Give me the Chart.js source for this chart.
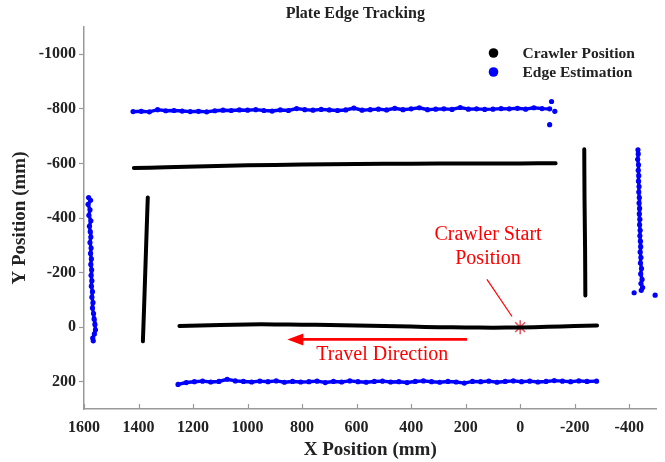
<!DOCTYPE html>
<html>
<head>
<meta charset="utf-8">
<script src="https://cdn.jsdelivr.net/npm/chart.js@4.4.1/dist/chart.umd.min.js"></script>
<style>
  html, body { margin: 0; padding: 0; background: #fff; }
  #wrap { width: 665px; height: 462px; }
</style>
</head>
<body>
<div id="wrap"><canvas id="edgeChart" width="665" height="462"></canvas></div>
<script>
// ---------------------------------------------
// Plate edge tracking — crawler path + edge estimate
// ---------------------------------------------

const xTicks = [1600, 1400, 1200, 1000, 800, 600, 400, 200, 0, -200, -400];
const yTicks = [-1000, -800, -600, -400, -200, 0, 200];
const legendLabels = ['Crawler Position', 'Edge Estimation'];

// crawler path (black), four legs
const crawlBottomX = [-282, -200, -100, 0, 100, 200, 300, 400, 500, 600, 700, 800, 900, 1000, 1100, 1250];
const crawlBottomY = [-6, -4, -1, 1, 2, 1, 0, -2, -4, -6, -8, -9, -10, -10, -8, -4];
const crawlLeftX = [1384, 1380, 1376, 1372, 1368, 1366];
const crawlLeftY = [52, -60, -180, -300, -420, -475];
const crawlTopX = [1417, 1300, 1150, 1000, 800, 600, 400, 200, 0, -130];
const crawlTopY = [-583, -586, -590, -593, -596, -598, -599, -600, -600, -601];
const crawlRightX = [-235, -236, -238, -239];
const crawlRightY = [-652, -470, -290, -116];

// edge estimation (blue)
const edgeTopX = [1420, 1390, 1360, 1330, 1300, 1270, 1240, 1210, 1180, 1150, 1120, 1090, 1060, 1030, 1000, 970, 940, 910, 880, 850,
  820, 790, 760, 730, 700, 670, 640, 610, 580, 550, 520, 490, 460, 430, 400, 370, 340, 310, 280, 250,
  220, 190, 160, 130, 100, 70, 40, 10, -20, -50, -80, -108];
const edgeTopY = [-790, -791, -789, -797, -793, -794, -792, -790, -791, -789, -793, -795, -794, -796, -795, -797, -794, -792, -796, -794,
  -801, -797, -795, -798, -796, -794, -796, -803, -795, -797, -799, -796, -802, -797, -800, -804, -797, -799, -800, -798,
  -805, -799, -800, -798, -799, -801, -800, -802, -799, -804, -801, -800];
const edgeTopOutX = [-115, -127, -108];
const edgeTopOutY = [-827, -791, -742];

const edgeBotX = [1255, 1225, 1195, 1165, 1135, 1105, 1075, 1045, 1015, 985, 955, 925, 895, 865, 835, 805, 775, 745, 715, 685,
  655, 625, 595, 565, 535, 505, 475, 445, 415, 385, 355, 325, 295, 265, 235, 205, 175, 145, 115, 85,
  55, 25, -5, -35, -65, -95, -125, -155, -185, -215, -245, -280];
const edgeBotY = [210, 203, 200, 198, 201, 199, 191, 197, 199, 201, 198, 200, 197, 202, 199, 201, 200, 198, 203, 199,
  201, 197, 200, 202, 199, 198, 201, 200, 203, 199, 197, 200, 202, 199, 201, 205, 199, 200, 198, 202,
  199, 197, 200, 198, 201, 199, 196, 198, 200, 197, 199, 198];

const edgeLeftX = [1583, 1576, 1585, 1578, 1582, 1575, 1580, 1577, 1575, 1578, 1574, 1576, 1573, 1575, 1572, 1574, 1571, 1573, 1569, 1571,
  1567, 1569, 1565, 1563, 1560, 1558, 1562, 1568, 1566];
const edgeLeftY = [-475, -465, -450, -430, -410, -390, -370, -350, -330, -310, -290, -270, -250, -230, -210, -190, -170, -150, -130, -110,
  -90, -70, -50, -30, -10, 10, 25, 40, 50];

const edgeRightX = [-432, -433, -431, -434, -433, -435, -434, -436, -435, -437, -436, -438, -437, -439, -438, -440, -439, -441, -442, -440,
  -443, -441, -445, -442, -447, -443, -449, -444];
const edgeRightY = [-650, -635, -615, -595, -575, -555, -535, -515, -495, -475, -455, -435, -415, -395, -375, -355, -335, -315, -295, -275,
  -255, -235, -215, -195, -175, -160, -145, -135];
const edgeRightOutX = [-418, -495];
const edgeRightOutY = [-126, -117];

// annotations (data units)
const startPoint = { x: 0, y: 0 };
const startLabel = ['Crawler Start', 'Position'];
const startLabelAt = { x: 118, y: -339 };
const startPointer = [{ x: 122, y: -175 }, { x: 30, y: -39 }];
const travelArrow = [{ x: 195, y: 45 }, { x: 854, y: 45 }];
const travelLabel = 'Travel Direction';
const travelLabelAt = { x: 506, y: 100 };

const BLUE = '#0000ff';
const RED = '#ff0000';
const SERIF = "'Liberation Serif', 'Times New Roman', serif";

const pts = (xs, ys) => xs.map((x, i) => ({ x, y: ys[i] }));

function crawlSet(label, xs, ys) {
  return {
    label, data: pts(xs, ys), showLine: true, tension: 0.3,
    borderColor: '#000', borderWidth: 4, pointRadius: 0, borderCapStyle: 'round', clip: 8
  };
}
function edgeSet(label, xs, ys, line) {
  return {
    label, data: pts(xs, ys), showLine: line, tension: 0,
    borderColor: BLUE, borderWidth: 3.4, backgroundColor: BLUE,
    pointRadius: 2.6, pointBorderWidth: 0, pointBackgroundColor: BLUE, clip: 8
  };
}

const datasets = [
  crawlSet(legendLabels[0], crawlBottomX, crawlBottomY),
  crawlSet('_c2', crawlLeftX, crawlLeftY),
  crawlSet('_c3', crawlTopX, crawlTopY),
  crawlSet('_c4', crawlRightX, crawlRightY),
  edgeSet(legendLabels[1], edgeTopX, edgeTopY, true),
  edgeSet('_e2', edgeTopOutX, edgeTopOutY, false),
  edgeSet('_e3', edgeBotX, edgeBotY, true),
  edgeSet('_e4', edgeLeftX, edgeLeftY, true),
  edgeSet('_e5', edgeRightX, edgeRightY, true),
  edgeSet('_e6', edgeRightOutX, edgeRightOutY, false),
  {
    label: '_start', data: [startPoint], pointStyle: 'star', pointRadius: 7,
    pointBorderColor: '#e8505b', pointBorderWidth: 1.5, showLine: false, clip: 10
  }
];

// ---------------------------------------------
// extras: title, legend, inner x ticks, red notes
// ---------------------------------------------
const extras = {
  id: 'extras',
  afterDatasetsDraw(chart) {
    const { ctx, chartArea: area, scales: { x, y } } = chart;
    ctx.save();

    // x ticks point into the plot
    ctx.strokeStyle = '#999';
    ctx.lineWidth = 1.2;
    xTicks.forEach(v => {
      const px = Math.round(x.getPixelForValue(v)) + 0.5;
      ctx.beginPath();
      ctx.moveTo(px, area.bottom);
      ctx.lineTo(px, area.bottom - 5);
      ctx.stroke();
    });

    // title
    ctx.fillStyle = '#222';
    ctx.font = `bold 16px ${SERIF}`;
    ctx.textAlign = 'center';
    ctx.textBaseline = 'middle';
    ctx.fillText('Plate Edge Tracking', (area.left + area.right) / 2 - 15, 14);

    // legend
    const colors = ['#000', BLUE];
    legendLabels.forEach((txt, i) => {
      const ly = 53 + i * 19;
      ctx.fillStyle = colors[i];
      ctx.beginPath();
      ctx.arc(area.right - 163, ly, 4.8, 0, Math.PI * 2);
      ctx.fill();
      ctx.fillStyle = '#222';
      ctx.font = `bold 15.5px ${SERIF}`;
      ctx.textAlign = 'left';
      ctx.fillText(txt, area.right - 134, ly + 1);
    });

    // pointer to start
    ctx.strokeStyle = RED;
    ctx.lineWidth = 1.2;
    ctx.beginPath();
    ctx.moveTo(x.getPixelForValue(startPointer[0].x), y.getPixelForValue(startPointer[0].y));
    ctx.lineTo(x.getPixelForValue(startPointer[1].x), y.getPixelForValue(startPointer[1].y));
    ctx.stroke();

    // travel arrow
    const ax0 = x.getPixelForValue(travelArrow[0].x);
    const ax1 = x.getPixelForValue(travelArrow[1].x);
    const ay = y.getPixelForValue(travelArrow[0].y);
    ctx.lineWidth = 2.8;
    ctx.beginPath();
    ctx.moveTo(ax0, ay);
    ctx.lineTo(ax1 + 12, ay);
    ctx.stroke();
    ctx.fillStyle = RED;
    ctx.beginPath();
    ctx.moveTo(ax1, ay);
    ctx.lineTo(ax1 + 16, ay - 6);
    ctx.lineTo(ax1 + 16, ay + 6);
    ctx.closePath();
    ctx.fill();

    // red labels
    ctx.font = `20px ${SERIF}`;
    ctx.textAlign = 'center';
    ctx.textBaseline = 'middle';
    const sx = x.getPixelForValue(startLabelAt.x);
    const sy = y.getPixelForValue(startLabelAt.y);
    startLabel.forEach((line, i) => ctx.fillText(line, sx, sy + i * 24));
    ctx.fillText(travelLabel, x.getPixelForValue(travelLabelAt.x), y.getPixelForValue(travelLabelAt.y));

    ctx.restore();
  }
};

new Chart(document.getElementById('edgeChart'), {
  type: 'scatter',
  data: { datasets },
  plugins: [extras],
  options: {
    responsive: false,
    animation: false,
    layout: { padding: { top: 27, right: 7, left: 0, bottom: 0 } },
    plugins: {
      legend: { display: false },
      title: { display: false },
      tooltip: { enabled: false }
    },
    scales: {
      x: {
        type: 'linear', min: -500, max: 1600, reverse: true,
        afterBuildTicks: s => { s.ticks = xTicks.map(v => ({ value: v })); },
        afterFit: s => { s.height = 53; },
        grid: { display: true, drawOnChartArea: false, drawTicks: false },
        border: { display: true, color: '#999', width: 1.5 },
        ticks: {
          color: '#222', padding: 9, maxRotation: 0, callback: v => String(v),
          font: { family: SERIF, size: 16, weight: 'bold' }
        },
        title: {
          display: true, text: 'X Position (mm)', color: '#222',
          font: { family: SERIF, size: 19, weight: 'bold' }, padding: { top: 0, bottom: 1 }
        }
      },
      y: {
        type: 'linear', min: -1100, max: 300, reverse: true,
        afterBuildTicks: s => { s.ticks = yTicks.map(v => ({ value: v })); },
        afterFit: s => { s.width = 84; },
        grid: { display: true, drawOnChartArea: false, drawTicks: true, tickLength: 5, color: '#999', tickWidth: 1.2 },
        border: { display: true, color: '#999', width: 1.5 },
        ticks: {
          color: '#222', padding: 3, callback: v => String(v),
          font: { family: SERIF, size: 16, weight: 'bold' }
        },
        title: {
          display: true, text: 'Y Position (mm)', color: '#222',
          font: { family: SERIF, size: 19, weight: 'bold' }, padding: { top: 8.5, bottom: 0 }
        }
      }
    }
  }
});
</script>
</body>
</html>
